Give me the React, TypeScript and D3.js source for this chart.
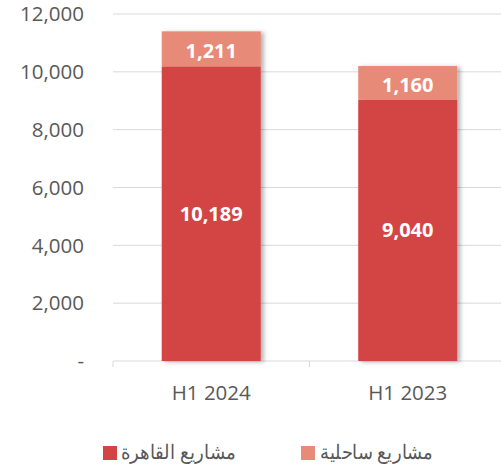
import React from "react";
import * as d3 from "d3";

const categories = ["H1 2024", "H1 2023"];
const cairoValues = [10189, 9040];
const coastalValues = [1211, 1160];
const yTicks = [0, 2000, 4000, 6000, 8000, 10000, 12000];
const seriesNames = ["مشاريع القاهرة", "مشاريع ساحلية"];
const colors = ["#D34545", "#E88A78"];

export default function App() {
  const W = 501, H = 468;
  const left = 113, right = 506, top = 14, bottom = 361;
  const x = d3.scaleBand().domain(categories).range([left, right]).paddingInner(0).paddingOuter(0);
  const y = d3.scaleLinear().domain([0, 12000]).range([bottom, top]);
  const bw = x.bandwidth() * 0.504;
  const fmt = d3.format(",");
  const font = "'Open Sans', sans-serif";
  const arFont = "'Liberation Serif', 'Times New Roman', serif";
  return (
    <svg width={W} height={H} style={{ position: "absolute", left: 0, top: 0 }}>
      <defs>
        <filter id="sh" x="-10%" y="-10%" width="130%" height="120%">
          <feDropShadow dx="3" dy="1" stdDeviation="2" floodColor="#000" floodOpacity="0.3" />
        </filter>
      </defs>
      {yTicks.map((t) => (
        <g key={t}>
          {t > 0 && <line x1={left} x2={right} y1={y(t)} y2={y(t)} stroke="#D9D9D9" strokeWidth={1} />}
          <text x={84} y={y(t)} dy="0.35em" textAnchor="end" fontSize={20.5} fill="#595959" fontFamily={font}>
            {t === 0 ? "-" : fmt(t)}
          </text>
        </g>
      ))}
      <line x1={left} x2={right} y1={bottom} y2={bottom} stroke="#D9D9D9" />
      {[left, left + x.bandwidth(), right].map((v, i) => (
        <line key={i} x1={v} x2={v} y1={bottom} y2={bottom + 6} stroke="#D9D9D9" />
      ))}
      {categories.map((c, i) => {
        const cx = (x(c) as number) + x.bandwidth() / 2;
        const x0 = cx - bw / 2;
        const a = cairoValues[i], b = coastalValues[i];
        return (
          <g key={c}>
            <g filter="url(#sh)">
              <rect x={x0} y={y(a)} width={bw} height={y(0) - y(a)} fill={colors[0]} />
              <rect x={x0} y={y(a + b)} width={bw} height={y(a) - y(a + b)} fill={colors[1]} />
            </g>
            <text x={cx} y={(y(0) + y(a)) / 2} dy="0.35em" textAnchor="middle" fontSize={20} fontWeight="bold" fill="#fff" fontFamily={font}>
              {fmt(a)}
            </text>
            <text x={cx} y={(y(a) + y(a + b)) / 2 + 2} dy="0.35em" textAnchor="middle" fontSize={20} fontWeight="bold" fill="#fff" fontFamily={font}>
              {fmt(b)}
            </text>
            <text x={cx} y={393} dy="0.35em" textAnchor="middle" fontSize={20.5} fill="#595959" fontFamily={font}>
              {c}
            </text>
          </g>
        );
      })}
      {/* legend */}
      <rect x={103} y={446} width={14} height={14} fill={colors[0]} />
      <text x={121} y={452} dy="0.35em" textAnchor="start" fontSize={20} fill="#595959" fontFamily={arFont} textLength={115} lengthAdjust="spacingAndGlyphs">
        {seriesNames[0]}
      </text>
      <rect x={301} y={446} width={14} height={14} fill={colors[1]} />
      <text x={320} y={452} dy="0.35em" textAnchor="start" fontSize={20} fill="#595959" fontFamily={arFont} textLength={113} lengthAdjust="spacingAndGlyphs">
        {seriesNames[1]}
      </text>
    </svg>
  );
}
